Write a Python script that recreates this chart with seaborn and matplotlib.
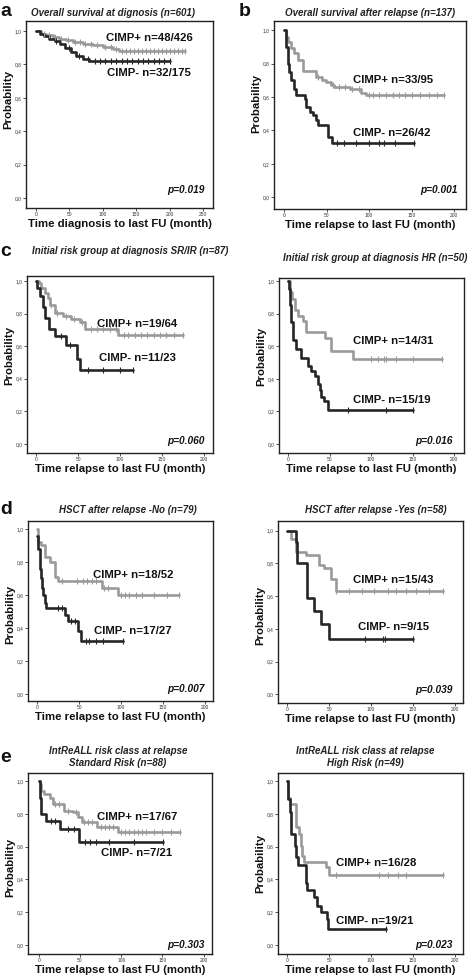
import numpy as np
import matplotlib
matplotlib.use('Agg')
import matplotlib.pyplot as plt
import seaborn as sns

### Kaplan-Meier curves (time in months, survival probability)
# a: overall survival at diagnosis
a_pos_t = [0, 8, 15, 25, 35, 45, 55, 70, 85, 100, 115, 125]
a_pos_s = [1.0, 0.985, 0.975, 0.965, 0.955, 0.945, 0.935, 0.925, 0.915, 0.905, 0.895, 0.88]
a_pos_end = 223
a_pos_cens = [12, 20, 28, 38, 48, 58, 66, 74, 82, 92, 104, 112, 120, 128, 134, 140, 146, 152,
              158, 164, 170, 176, 182, 188, 194, 200, 206, 212, 218, 223]
a_neg_t = [0, 6, 12, 20, 28, 36, 44, 52, 60, 70, 80]
a_neg_s = [1.0, 0.985, 0.97, 0.955, 0.94, 0.92, 0.90, 0.875, 0.85, 0.835, 0.82]
a_neg_end = 200
a_neg_cens = [30, 50, 65, 78, 88, 96, 104, 112, 120, 128, 136, 144, 152, 160, 168, 176, 184, 192, 200]

# b: overall survival after relapse
b_pos_t = [0, 2, 5, 8, 12, 16, 22, 38, 44, 49, 55, 59, 77, 90, 96]
b_pos_s = [1.0, 0.96, 0.93, 0.89, 0.86, 0.82, 0.755, 0.72, 0.70, 0.69, 0.67, 0.66, 0.645, 0.625, 0.612]
b_pos_end = 188
b_pos_cens = [40, 58, 65, 72, 80, 88, 100, 104, 112, 120, 128, 135, 142, 150, 160, 170, 180, 188]
b_neg_t = [0, 2, 4, 6, 8, 11, 14, 24, 26, 30, 34, 37, 40, 52, 56]
b_neg_s = [1.0, 0.90, 0.80, 0.75, 0.70, 0.65, 0.61, 0.59, 0.54, 0.51, 0.49, 0.46, 0.43, 0.36, 0.325]
b_neg_end = 153
b_neg_cens = [62, 70, 85, 100, 112, 118, 130, 153]

# c left: initial risk group SR/IR
c_pos_t = [0, 3, 6, 10, 14, 17, 22, 32, 42, 52, 58, 98]
c_pos_s = [1.0, 0.985, 0.955, 0.925, 0.895, 0.85, 0.805, 0.785, 0.765, 0.745, 0.705, 0.67]
c_pos_end = 175
c_pos_cens = [18, 25, 35, 45, 55, 65, 72, 80, 88, 95, 105, 110, 118, 125, 132, 140, 148, 155, 165, 175]
c_neg_t = [0, 1, 4, 8, 11, 15, 22, 36, 49, 52]
c_neg_s = [1.0, 0.955, 0.91, 0.84, 0.775, 0.705, 0.66, 0.61, 0.52, 0.455]
c_neg_end = 116
c_neg_cens = [30, 40, 62, 80, 100, 116]

# c right: initial risk group HR
c2_pos_t = [0, 2, 5, 8, 12, 18, 22, 44, 52, 78]
c2_pos_s = [1.0, 0.93, 0.89, 0.82, 0.785, 0.755, 0.685, 0.65, 0.57, 0.52]
c2_pos_end = 186
c2_pos_cens = [100, 108, 115, 118, 130, 150, 186]
c2_neg_t = [0, 1, 2, 4, 6, 10, 16, 24, 28, 32, 36, 38, 40, 43, 48]
c2_neg_s = [1.0, 0.95, 0.85, 0.75, 0.64, 0.58, 0.53, 0.48, 0.45, 0.42, 0.37, 0.33, 0.29, 0.265, 0.21]
c2_neg_end = 151
c2_neg_cens = [72, 118, 151]

# d left: HSCT after relapse - No
d_pos_t = [0, 1, 4, 9, 15, 21, 25, 77, 97]
d_pos_s = [1.0, 0.92, 0.90, 0.83, 0.80, 0.71, 0.685, 0.64, 0.60]
d_pos_end = 169
d_pos_cens = [30, 48, 55, 60, 65, 70, 80, 85, 100, 105, 110, 118, 125, 140, 155, 169]
d_neg_t = [0, 1, 3, 5, 6, 7, 9, 11, 33, 37, 49, 52]
d_neg_s = [0.96, 0.88, 0.76, 0.70, 0.64, 0.60, 0.55, 0.52, 0.48, 0.44, 0.38, 0.32]
d_neg_end = 103
d_neg_cens = [25, 30, 40, 45, 58, 62, 70, 78, 103]

# d right: HSCT after relapse - Yes
d2_pos_t = [0, 5, 10, 22, 38, 44, 52, 58]
d2_pos_s = [1.0, 0.95, 0.87, 0.85, 0.79, 0.77, 0.705, 0.633]
d2_pos_end = 186
d2_pos_cens = [58, 74, 89, 104, 120, 130, 142, 154, 169, 186]
d2_neg_t = [0, 10, 12, 24, 32, 40, 50]
d2_neg_s = [1.0, 0.93, 0.80, 0.59, 0.51, 0.43, 0.34]
d2_neg_end = 150
d2_neg_cens = [93, 115, 117, 150]

# e left: IntReALL standard risk
e_pos_t = [0, 1, 3, 6, 14, 17, 31, 41, 47, 53, 71, 96]
e_pos_s = [1.0, 0.98, 0.94, 0.92, 0.90, 0.86, 0.82, 0.81, 0.78, 0.75, 0.72, 0.69]
e_pos_end = 171
e_pos_cens = [20, 25, 35, 45, 55, 60, 65, 75, 80, 85, 90, 100, 105, 110, 115, 120, 125, 130,
              140, 150, 160, 171]
e_neg_t = [0, 1, 3, 9, 26, 49]
e_neg_s = [1.0, 0.90, 0.80, 0.76, 0.71, 0.63]
e_neg_end = 151
e_neg_cens = [15, 20, 35, 43, 56, 62, 70, 85, 115, 151]

# e right: IntReALL high risk
e2_pos_t = [0, 1, 3, 10, 14, 16, 18, 20, 46, 50]
e2_pos_s = [1.0, 0.90, 0.86, 0.72, 0.68, 0.605, 0.545, 0.505, 0.475, 0.43]
e2_pos_end = 186
e2_pos_cens = [58, 110, 120, 132, 142, 186]
e2_neg_t = [0, 1, 3, 5, 9, 11, 13, 22, 24, 32, 36, 40, 48, 49]
e2_neg_s = [1.0, 0.89, 0.81, 0.68, 0.605, 0.54, 0.49, 0.38, 0.335, 0.29, 0.24, 0.20, 0.16, 0.095]
e2_neg_end = 118
e2_neg_cens = [118]

titles = ['Overall survival at dignosis (n=601)',
          'Overall survival after relapse (n=137)',
          'Initial risk group at diagnosis SR/IR (n=87)',
          'Initial risk group at diagnosis HR (n=50)',
          'HSCT after relapse -No (n=79)',
          'HSCT after relapse -Yes (n=58)',
          'IntReALL risk class at relapse\nStandard Risk (n=88)',
          'IntReALL risk class at relapse\nHigh Risk (n=49)']
pos_labels = ['CIMP+ n=48/426', 'CIMP+ n=33/95', 'CIMP+ n=19/64', 'CIMP+ n=14/31',
              'CIMP+ n=18/52', 'CIMP+ n=15/43', 'CIMP+ n=17/67', 'CIMP+ n=16/28']
neg_labels = ['CIMP- n=32/175', 'CIMP- n=26/42', 'CIMP- n=11/23', 'CIMP- n=15/19',
              'CIMP- n=17/27', 'CIMP- n=9/15', 'CIMP- n=7/21', 'CIMP- n=19/21']
p_values = ['p=0.019', 'p=0.001', 'p=0.060', 'p=0.016', 'p=0.007', 'p=0.039', 'p=0.303', 'p=0.023']
xlabels = ['Time diagnosis to last FU (month)'] + ['Time relapse to last FU (month)'] * 7
ytick_vals = [0.0, 0.2, 0.4, 0.6, 0.8, 1.0]
ytick_txt = ['0,0', '0,2', '0,4', '0,6', '0,8', '1,0']
xticks_diag = [0, 50, 100, 150, 200, 250]
xticks_rel = [0, 50, 100, 150, 200]
letters = ['a', 'b', 'c', 'd', 'e']

curves = [
    (a_pos_t, a_pos_s, a_pos_end, a_pos_cens, a_neg_t, a_neg_s, a_neg_end, a_neg_cens),
    (b_pos_t, b_pos_s, b_pos_end, b_pos_cens, b_neg_t, b_neg_s, b_neg_end, b_neg_cens),
    (c_pos_t, c_pos_s, c_pos_end, c_pos_cens, c_neg_t, c_neg_s, c_neg_end, c_neg_cens),
    (c2_pos_t, c2_pos_s, c2_pos_end, c2_pos_cens, c2_neg_t, c2_neg_s, c2_neg_end, c2_neg_cens),
    (d_pos_t, d_pos_s, d_pos_end, d_pos_cens, d_neg_t, d_neg_s, d_neg_end, d_neg_cens),
    (d2_pos_t, d2_pos_s, d2_pos_end, d2_pos_cens, d2_neg_t, d2_neg_s, d2_neg_end, d2_neg_cens),
    (e_pos_t, e_pos_s, e_pos_end, e_pos_cens, e_neg_t, e_neg_s, e_neg_end, e_neg_cens),
    (e2_pos_t, e2_pos_s, e2_pos_end, e2_pos_cens, e2_neg_t, e2_neg_s, e2_neg_end, e2_neg_cens),
]

### layout in pixels of the 472x980 figure
W, H = 472, 980
# axes box: left, top, right, bottom
boxes = [(26, 21, 213, 208), (274, 21, 466, 209),
         (27, 276, 213, 453), (279, 278, 464, 453),
         (28, 521, 213, 701), (278, 521, 463, 703),
         (28, 773, 212, 954), (278, 773, 463, 954)]
xlims = [(-15, 265), (-12, 214), (-11, 211), (-11, 212),
         (-11, 210), (-11, 210), (-13, 210), (-11, 210)]
ylims = [(-0.06, 1.06), (-0.069, 1.054), (-0.055, 1.03), (-0.055, 1.018),
         (-0.042, 1.048), (-0.052, 1.058), (-0.055, 1.05), (-0.055, 1.05)]
title_xy = [(113, 13), (370, 13), (130, 251), (375, 258),
            (128, 510), (376, 510), (118, 757), (365, 757)]
pos_xy = [(106, 38), (353, 80), (97, 324), (353, 341),
          (93, 575), (353, 580), (97, 817), (336, 863)]
neg_xy = [(107, 73), (353, 133), (99, 358), (353, 400),
          (94, 631), (358, 627), (101, 853), (336, 921)]
p_xy = [(205, 190), (458, 190), (205, 441), (453, 441),
        (205, 689), (453, 690), (205, 945), (453, 945)]
ylab_y = [0.58, 0.56, 0.55, 0.55, 0.48, 0.48, 0.48, 0.50]
letter_xy = [(0, 11), (239, 11), (0, 251), (0, 509), (0, 757)]

GRAY = '#9a9a9a'
DARK = '#262626'

sns.set_style('white')
plt.rcParams['font.family'] = ['Liberation Sans', 'DejaVu Sans']


def fx(px):
    return px / W


def fy(py):
    return 1 - py / H


def surv_at(times, surv, t):
    idx = np.searchsorted(times, t, side='right') - 1
    return np.asarray(surv)[idx]


def km(ax, times, surv, end, cens, color):
    tt = list(times) + [end]
    ss = list(surv) + [surv[-1]]
    sns.lineplot(x=tt, y=ss, drawstyle='steps-post', color=color, lw=1.9,
                 estimator=None, sort=False, ax=ax)
    sns.scatterplot(x=cens, y=surv_at(times, surv, cens), marker='|', s=16,
                    linewidth=0.8, color=color, ax=ax, zorder=3)


fig = plt.figure(figsize=(W / 100, H / 100), dpi=100)

for i in range(8):
    l, t, r, b = boxes[i]
    ax = fig.add_axes([fx(l), fy(b), (r - l) / W, (b - t) / H])
    pt, ps, pe, pc, nt, ns, ne, nc = curves[i]
    km(ax, pt, ps, pe, pc, GRAY)
    km(ax, nt, ns, ne, nc, DARK)

    xt = xticks_diag if i == 0 else xticks_rel
    ax.set_xlim(xlims[i])
    ax.set_ylim(ylims[i])
    ax.set_xticks(xt)
    ax.set_xticklabels([str(v) for v in xt])
    ax.set_yticks(ytick_vals)
    ax.set_yticklabels(ytick_txt)
    ax.tick_params(labelsize=3.5, length=2, width=0.6, pad=1, colors='#333333',
                   bottom=True, left=True)
    for sp in ax.spines.values():
        sp.set_linewidth(1.0)
        sp.set_color('#222222')

    ax.set_xlabel(xlabels[i], fontsize=8.2, fontweight='bold', color='#111111')
    ax.xaxis.set_label_coords(0.5, -11.0 / (b - t))
    ax.set_ylabel('Probability', fontsize=8.2, fontweight='bold', color='#111111')
    ax.yaxis.set_label_coords(-13.0 / (r - l), ylab_y[i])

    fig.text(fx(title_xy[i][0]), fy(title_xy[i][1]), titles[i], ha='center', va='center',
             fontsize=7, fontweight='bold', style='italic', color='#222222', linespacing=1.15)
    fig.text(fx(pos_xy[i][0]), fy(pos_xy[i][1]), pos_labels[i], ha='left', va='center',
             fontsize=8.2, fontweight='bold', color='#111111')
    fig.text(fx(neg_xy[i][0]), fy(neg_xy[i][1]), neg_labels[i], ha='left', va='center',
             fontsize=8.2, fontweight='bold', color='#111111')
    fig.text(fx(p_xy[i][0]), fy(p_xy[i][1]), p_values[i], ha='right', va='center',
             fontsize=7.3, fontweight='bold', style='italic', color='#111111')

for k, lt in enumerate(letters):
    fig.text(fx(letter_xy[k][0]), fy(letter_xy[k][1]), lt, ha='left', va='center',
             fontsize=14, fontweight='bold', color='#111111')

fig.savefig('out.png', dpi=100)
